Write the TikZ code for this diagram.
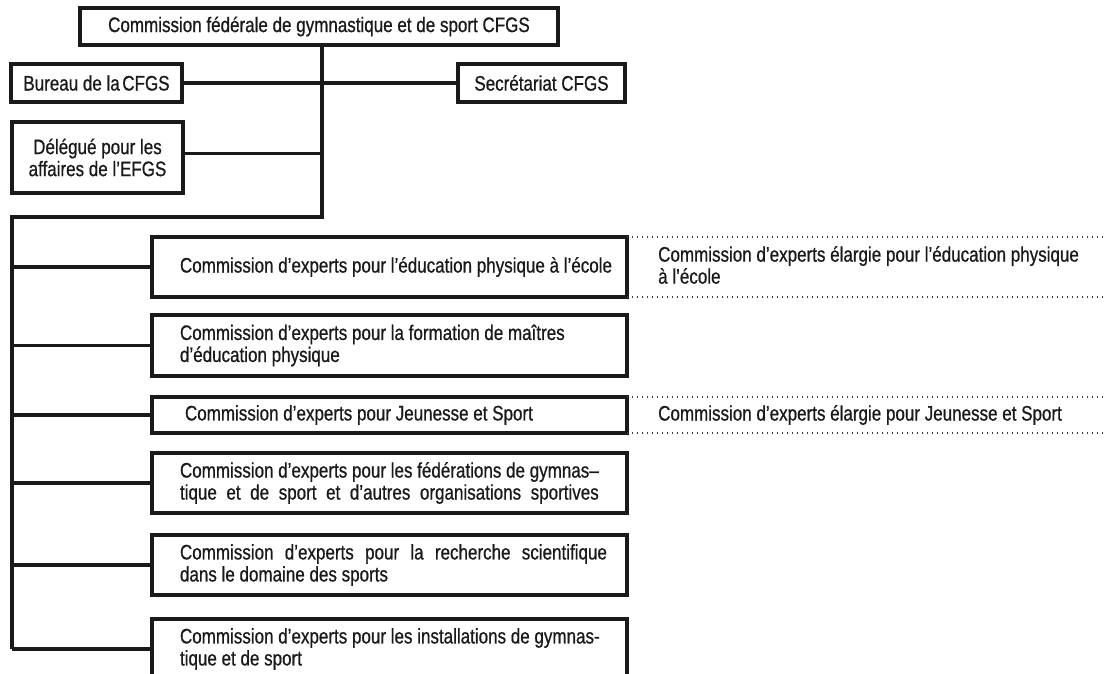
\documentclass[tikz,border=0pt]{standalone}
\usepackage{fontspec}
\setmainfont{Liberation Sans}[FakeStretch=0.81,FakeBold=0.7]
\newsavebox\lineboxA
\newcommand\childtext[1]{\makebox[475pt][l]{\hspace*{28pt}\parbox[c]{440pt}{\raggedright #1}}}
\definecolor{ink}{HTML}{1A1A1A}
\definecolor{dotink}{HTML}{3A3A3A}
\begin{document}
\begin{tikzpicture}[x=1pt,y=-1pt,
  every node/.style={text=ink, font=\fontsize{21}{22}\selectfont},
  box/.style={draw=ink, line width=3.1pt, rectangle, outer sep=0pt, inner sep=0pt},
  topbox/.style={box, align=center},
  child/.style={box, minimum width=475pt, inner xsep=0pt, inner ysep=0pt},
  conn/.style={draw=ink, line width=3.1pt, line join=miter},
  dotline/.style={draw=dotink, line width=1.2pt, dash pattern=on 1.2pt off 3.8pt},
  side/.style={anchor=west, inner sep=0pt, align=left}]
\useasboundingbox (0,0) rectangle (1104,674);
\fill[white] (0,0) rectangle (1104,674);

% upper level
\node[topbox, minimum width=478pt, minimum height=37pt] (top) at (319,26.5)
  {Commission fédérale de gymnastique et de sport CFGS};
\node[topbox, minimum width=171pt, minimum height=38pt] (bureau) at (96.5,83)
  {Bureau de la\hspace{0.12em}CFGS};
\node[topbox, minimum width=167pt, minimum height=38pt] (secr) at (541.5,83)
  {Secrétariat CFGS};
\node[topbox, minimum width=171pt, minimum height=71pt] (deleg) at (97.5,157.5)
  {Délégué pour les\\affaires de l’EFGS};

% junctions
\coordinate (j1) at (322,217);
\coordinate (j0) at (12,217);
\coordinate (E) at (1104,0);

% expert commissions
\node[child, minimum height=60pt] (b1) at (389.5,267)
  {\childtext{Commission d’experts pour l’éducation physique à l’école}};
\node[child, minimum height=61pt] (b2) at (389.5,345.5)
  {\childtext{Commission d’experts pour la formation de maîtres\\d’éducation physique}};
\node[child, minimum height=36pt] (b3) at (389.5,415)
  {\childtext{\hspace*{5pt}Commission d’experts pour Jeunesse et Sport}};
\node[child, minimum height=60pt] (b4) at (389.5,483)
  {\childtext{\sbox\lineboxA{Commission d’experts pour les fédérations de gymnas–}\usebox\lineboxA\\\makebox[\wd\lineboxA][s]{tique et de sport et d’autres organisations sportives}}};
\node[child, minimum height=60pt] (b5) at (389.5,565)
  {\childtext{\makebox[427pt][s]{Commission d’experts pour la recherche scientifique}\\dans le domaine des sports}};
\node[child, minimum height=60pt] (b6) at (389.5,649)
  {\childtext{Commission d’experts pour les installations de gymnas-\\tique et de sport}};

% enlarged commissions
\node[side] (s1) at (658,265)
  {Commission d’experts élargie pour l’éducation physique\\à l’école};
\node[side] (s3) at (658,415)
  {Commission d’experts élargie pour Jeunesse et Sport};

% connectors
\draw[conn] (top.south -| j1) -- (j1) -- (j0) -- (j0 |- b6.west);
\draw[conn] (bureau.east) -- (bureau.east -| j1);
\draw[conn] (secr.west) -- (secr.west -| j1);
\draw[conn] ([yshift=4pt]deleg.east) -- ([yshift=4pt]deleg.east -| j1);
\foreach \b in {b1,b2,b3,b4,b5,b6}
  \draw[conn] (\b.west) -- (\b.west -| j0);

% dotted bands
\draw[dotline] (b1.north east) -- (b1.north east -| E);
\draw[dotline] (b1.south east) -- (b1.south east -| E);
\draw[dotline] (b3.north east) -- (b3.north east -| E);
\draw[dotline] (b3.south east) -- (b3.south east -| E);
\end{tikzpicture}
\end{document}
